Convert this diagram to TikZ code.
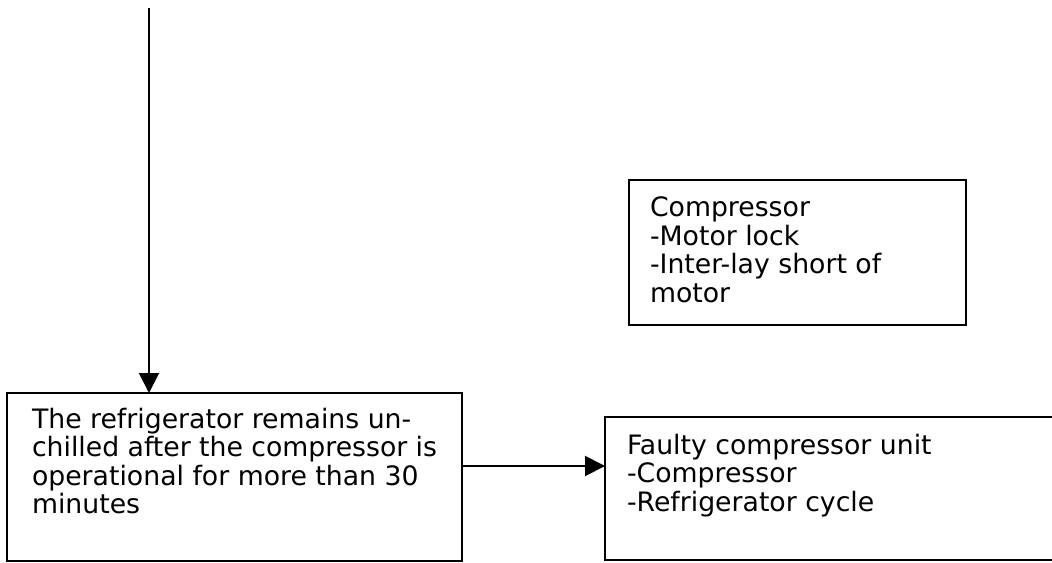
\documentclass[tikz,border=0pt]{standalone}
\usepackage{fontspec}
\setmainfont{DejaVu Sans}
\usepackage{tikz}
\usetikzlibrary{arrows.meta, positioning, calc}
\newcommand{\boxfont}{\fontsize{19}{20.3}\selectfont}
\tikzset{>={Triangle[length=0.5cm,width=0.5cm]}}
\tikzset{box/.style={draw, line width=1.4pt, outer sep=0pt, anchor=north west, font=\boxfont}}

\begin{document}
\begin{tikzpicture}[line width=1.4pt]

	\useasboundingbox (0,0) rectangle (26.3,14.05);

	\coordinate (start) at (3.725,13.85);

	\node [box, inner xsep=0.625cm, inner ysep=0.37cm] (unchilled) at (0.175,4.225)
		{\parbox[t][3.46cm][t]{10.125cm}{\raggedright The refrigerator remains un-\\chilled after the compressor is\\operational for more than 30\\minutes}};

	\node [box, inner xsep=0.55cm, inner ysep=0.425cm] (faulty) at (15.125,3.625)
		{\parbox[t][2.725cm][t]{10.325cm}{\raggedright Faulty compressor unit\\-Compressor\\-Refrigerator cycle}};

	\node [box, inner xsep=0.525cm, inner ysep=0.425cm] (compressor) at (15.725,9.55)
		{\parbox[t][2.775cm][t]{7.375cm}{\raggedright Compressor\\-Motor lock\\-Inter-lay short of\\motor}};

	\draw [->] (start) -- (start |- unchilled.north);
	\draw [->] (unchilled.east |- 0,2.4) -- (faulty.west |- 0,2.4);

\end{tikzpicture}
\end{document}
